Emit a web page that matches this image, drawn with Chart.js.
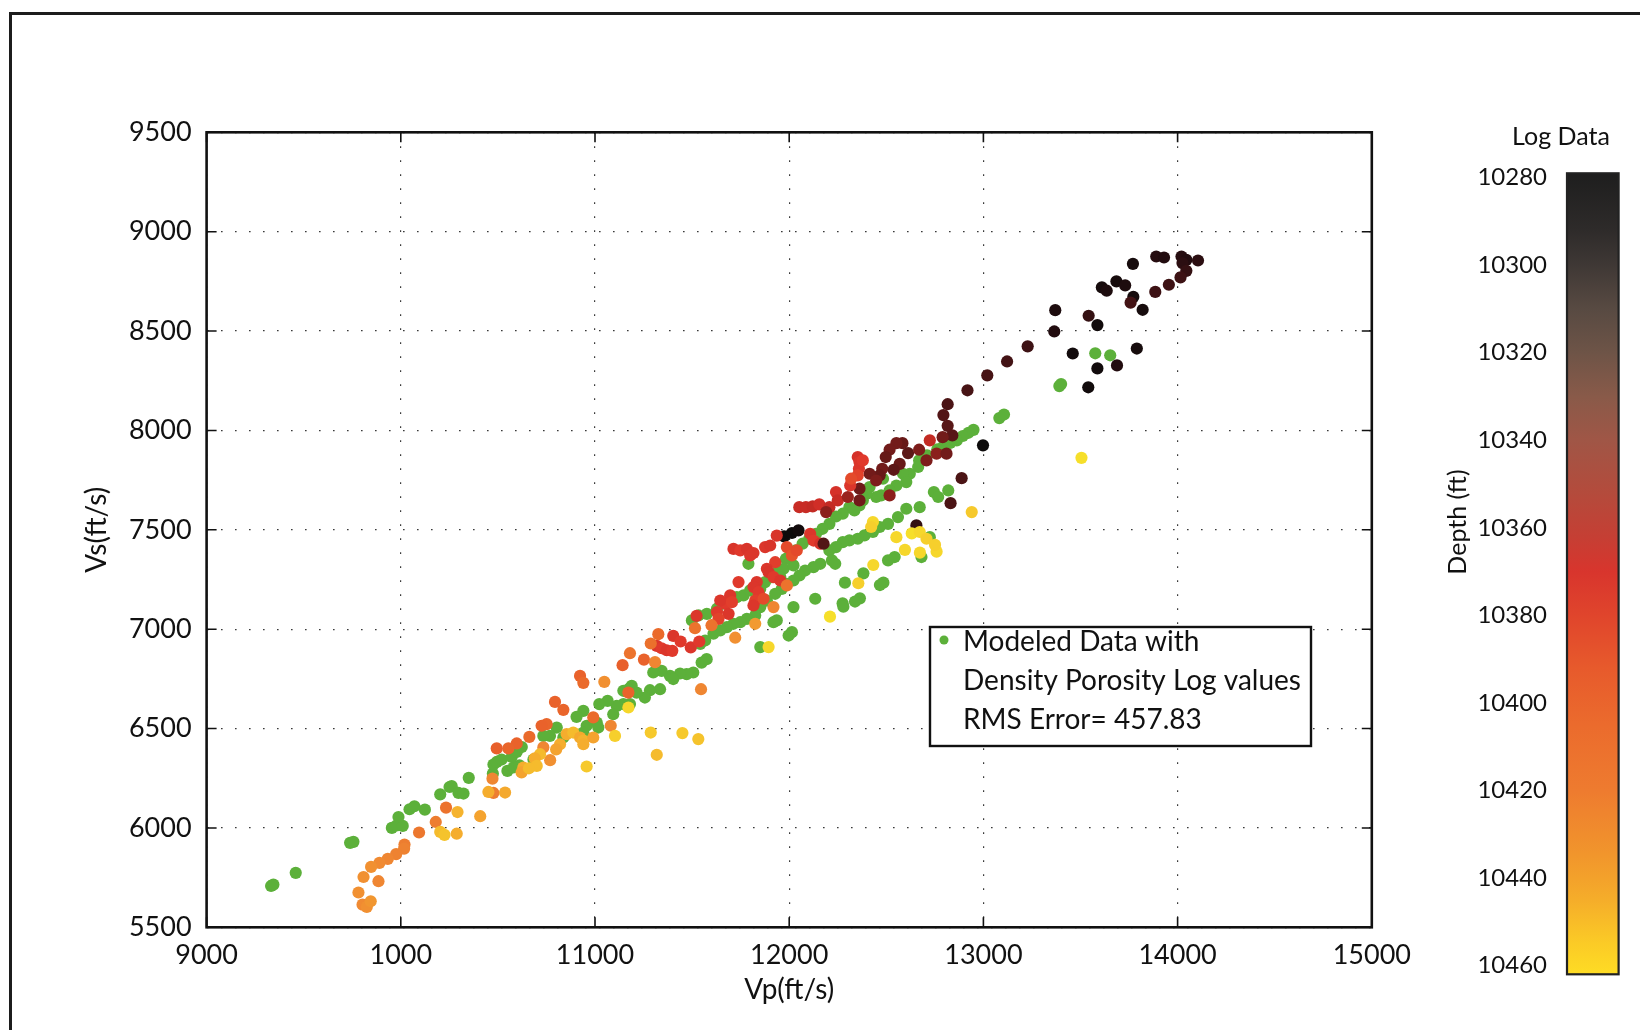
<!DOCTYPE html>
<html><head><meta charset="utf-8">
<script src="https://cdn.jsdelivr.net/npm/chart.js"></script>
<style>
html,body{margin:0;padding:0;background:#fff;}
#wrap{position:relative;width:1640px;height:1030px;overflow:hidden;background:#fff;}
#main{position:absolute;left:0;top:0;}
#cbar{position:absolute;left:1400px;top:0;}
#frame{position:absolute;left:9px;top:12px;width:1700px;height:1100px;border-left:3px solid #1c1c1c;border-top:3px solid #1c1c1c;pointer-events:none;}
</style></head><body>
<div id="wrap">
<canvas id="main" width="1640" height="1030"></canvas>
<canvas id="cbar" width="240" height="1030"></canvas>
<div id="frame"></div>
</div>
<script>
// ---------------- DATA ----------------
const xTickValues = [9000, 10000, 11000, 12000, 13000, 14000, 15000];
const xTickLabels = ['9000', '1000', '11000', '12000', '13000', '14000', '15000'];
const yTickValues = [5500, 6000, 6500, 7000, 7500, 8000, 8500, 9000, 9500];
const depthTicks = [10280, 10300, 10320, 10340, 10360, 10380, 10400, 10420, 10440, 10460];
const xTitle = 'Vp(ft/s)';
const yTitle = 'Vs(ft/s)';
const cbTitle = 'Log Data';
const cbAxisTitle = 'Depth (ft)';
const legendLines = ['Modeled Data with', 'Density Porosity Log values', 'RMS Error= 457.83'];

// Log data (colored by depth)
const logVp = [
  13890,13930,14020,14045,14025,14105,14045,14015,13955,13885,13770,13610,13635,13685,13730,13772,13758,13820,13542,13587,13370,13365,13228,13122,13020,12918,12816,12794,12816,12840,13460,13790,13587,13688,13540,12998,
  12888,12831,12655,12583,12552,12517,12497,12612,12669,12724,12790,12569,12538,12479,12466,12414,12448,12707,12759,12810,12362,12362,12517,
  12353,12362,12359,12353,12379,12052,12086,12121,12155,12207,12241,12250,12302,12314,12319,12190,11974,12014,12048,
  11936,11876,11902,11713,11748,11782,11816,11799,11928,11885,11894,11833,11739,11696,11670,11645,11705,11628,11688,11636,11816,11842,11825,11816,11868,12108,12125,12160,11988,12014,12039,11919,11954,
  11988,11919,11825,11722,11600,12177,
  11318,11343,11369,11398,11403,11441,11493,11537,11523,
  11326,11287,11252,11180,11142,11309,10923,10940,11048,10794,10837,11546,11515,10751,10725,10662,10597,10554,10494,10734,10769,11081,10991,11172,
  11103,11287,11450,11532,11318,10957,11172,10854,10888,10923,10940,10991,10940,10820,10800,10717,10690,10631,10622,10700,10660,
  10472,10477,10233,10180,10094,10019,10017,9976,9933,9890,9847,9808,9885,9782,9803,9825,9845,
  10451,10537,10409,10292,10203,10225,10288,
  12596,12673,12631,12759,12751,12433,12356,12210,12552,12672,12707,12940,12431,12422,13505,11894
];
const logVs = [
  8875,8870,8875,8858,8842,8855,8803,8770,8733,8697,8838,8720,8703,8750,8730,8672,8643,8607,8577,8530,8605,8498,8423,8347,8277,8202,8132,8077,8023,7975,8387,8412,8312,8327,8217,7925,
  7760,7634,7522,7936,7936,7903,7866,7886,7903,7950,7966,7832,7802,7807,7774,7782,7748,7849,7883,7883,7707,7648,7673,
  7866,7841,7807,7774,7849,7614,7614,7618,7628,7614,7690,7648,7665,7723,7757,7589,7467,7484,7497,
  7471,7413,7421,7404,7396,7404,7383,7371,7337,7304,7287,7237,7237,7170,7128,7144,7136,7086,7077,7052,7212,7186,7144,7119,7153,7480,7446,7430,7413,7371,7396,7262,7245,
  7220,7111,7027,6957,7020,7430,
  6916,6904,6894,6891,6966,6938,6908,6938,7067,
  6975,6928,6847,6879,6819,6834,6765,6730,6735,6634,6594,6698,7005,6522,6514,6458,6425,6400,6400,6405,6341,6514,6556,6681,
  6463,6480,6477,6447,6368,6309,6606,6472,6480,6455,6440,6455,6421,6421,6395,6371,6350,6304,6279,6312,6300,
  6248,6176,6102,6030,5977,5916,5896,5868,5844,5824,5804,5753,5732,5675,5614,5603,5631,
  6181,6178,6059,6080,5980,5965,5971,
  7399,7385,7482,7390,7424,7323,7231,7063,7463,7489,7455,7589,7539,7514,7862,6910
];
const logDepth = [
  10292,10290,10292,10290,10295,10295,10300,10305,10305,10305,10285,10285,10288,10285,10288,10285,10308,10285,10300,10283,10288,10290,10305,10308,10310,10310,10312,10315,10318,10318,10283,10285,10283,10290,10283,10281,
  10312,10312,10300,10325,10330,10330,10325,10320,10335,10360,10330,10325,10320,10330,10325,10330,10335,10335,10340,10330,10328,10330,10340,
  10368,10372,10372,10380,10375,10362,10362,10360,10365,10360,10368,10362,10345,10372,10385,10340,10281,10281,10283,
  10370,10372,10370,10370,10375,10370,10372,10372,10378,10372,10370,10372,10375,10372,10375,10372,10378,10375,10372,10380,10372,10375,10378,10372,10385,10372,10375,10368,10385,10390,10385,10375,10372,
  10410,10420,10430,10425,10410,10315,
  10372,10375,10372,10375,10372,10375,10372,10375,10372,
  10405,10408,10400,10410,10398,10420,10400,10405,10425,10400,10402,10420,10410,10402,10400,10405,10400,10402,10398,10420,10425,10420,10405,10400,
  10452,10450,10450,10448,10445,10450,10455,10440,10445,10438,10442,10435,10440,10440,10435,10445,10440,10440,10435,10445,10445,
  10420,10415,10410,10415,10412,10415,10418,10418,10420,10422,10425,10425,10420,10425,10422,10425,10428,
  10440,10438,10435,10442,10445,10448,10440,
  10455,10455,10458,10455,10452,10455,10452,10458,10455,10455,10452,10450,10455,10452,10458,10455
];

// Modeled data with density porosity log values
const modelVp = [
  13576,13653,13400,13391,13082,13106,12949,12923,12894,12863,12829,12794,12763,
  12710,12669,12664,12621,12586,12603,12552,12517,12483,12474,12448,12414,12397,12379,12362,12336,12310,12276,12241,12207,12172,12138,12103,12069,12034,12000,11983,
  12745,12819,12767,12672,12603,12560,12509,12466,12431,12388,12353,12310,12276,12241,12207,12543,12509,12724,12681,
  12382,12287,12485,12467,12364,12339,12275,12279,
  11499,11533,11576,11628,11670,11730,11765,11799,11851,11876,11911,11936,11971,11954,12022,11997,12160,12125,12082,12053,12022,11988,11962,11928,11885,11851,11825,11782,11748,11713,11679,11645,11610,11567,11542,11790,12134,12022,11936,11919,12014,11997,11851,12220,12237,
  11549,11575,11506,11472,11438,11386,11403,11343,11300,11335,11283,11257,11214,11189,11172,11146,11180,11146,11112,11065,11022,11094,10940,10905,11009,11017,10957,10940,10803,10768,10734,10837,
  9332,9344,9459,9739,9756,9954,9979,10010,9988,10045,10070,10124,10203,10251,10262,10297,10323,10350,10474,10477,10494,10519,10549,10580,10611,10571,10597,10623,10683
];
const modelVs = [
  8388,8378,8233,8223,8062,8080,8003,7988,7972,7950,7937,7920,7905,
  7875,7849,7816,7782,7782,7740,7723,7698,7757,7673,7665,7715,7681,7648,7623,7598,7614,7581,7567,7530,7505,7480,7455,7430,7396,7363,7354,
  7690,7698,7665,7614,7606,7564,7530,7514,7489,7472,7455,7447,7438,7413,7396,7363,7346,7463,7363,
  7281,7234,7234,7222,7155,7139,7130,7113,
  7044,7069,7077,7103,7128,7161,7170,7195,7203,7237,7262,7287,7304,7262,7321,7362,7329,7312,7295,7270,7245,7228,7203,7178,7144,7111,7069,7052,7035,7027,7010,6994,6977,6943,6926,7329,7153,7111,7044,7035,6985,6968,6910,7346,7329,
  6832,6849,6782,6774,6777,6765,6749,6790,6782,6698,6693,6656,6681,6715,6698,6690,6623,6623,6614,6639,6623,6572,6589,6559,6530,6505,6514,6480,6505,6463,6463,6455,
  5708,5715,5774,5925,5930,6000,6013,6010,6055,6094,6109,6092,6169,6206,6210,6176,6173,6252,6273,6319,6332,6344,6287,6304,6315,6357,6382,6407,6344
];

// ---------------- STYLE ----------------
const FONT = 'Lato, "Open Sans", "DejaVu Sans", sans-serif';
const TEXT = '#111111';
const GREEN = '#5cb03a';
const POINT_R = 6.1;
// colour map used for the log-data markers
const markerStops = [
  [10280,'#0b0b0b'],[10290,'#220c0f'],[10305,'#3d1214'],[10320,'#5c1717'],[10335,'#7d1d1b'],
  [10350,'#a8261f'],[10365,'#d02e27'],[10375,'#e0392c'],[10390,'#e6532a'],[10405,'#ea6a2b'],
  [10420,'#ef8632'],[10440,'#f5ad2e'],[10460,'#f6e52a']
];
// colour map as printed on the colour bar
const barStops = [
  [10279,'#1e1e1e'],[10292,'#2e2b2a'],[10300,'#3f3835'],[10310,'#584a42'],[10320,'#6e5447'],
  [10330,'#895a49'],[10340,'#a05646'],[10352,'#b44b3c'],[10362,'#c53f34'],[10370,'#d8352d'],
  [10380,'#e0452c'],[10392,'#e75a2c'],[10405,'#eb6b2d'],[10420,'#ee7b2f'],[10435,'#f1962c'],
  [10445,'#f5ad2a'],[10455,'#fbcb26'],[10462,'#fedc24']
];
const legendBox = {left: 930, top: 627, width: 381, height: 119};

function hexToRgb(h){ const n = parseInt(h.slice(1),16); return [(n>>16)&255,(n>>8)&255,n&255]; }
function depthColor(d, stops){
  if (d <= stops[0][0]) return stops[0][1];
  for (let i = 1; i < stops.length; i++){
    if (d <= stops[i][0]){
      const t = (d - stops[i-1][0]) / (stops[i][0] - stops[i-1][0]);
      const a = hexToRgb(stops[i-1][1]), b = hexToRgb(stops[i][1]);
      const c = a.map((v,k)=>Math.round(v + (b[k]-v)*t));
      return `rgb(${c[0]},${c[1]},${c[2]})`;
    }
  }
  return stops[stops.length-1][1];
}

// frame + inner ticks of the plot box
const boxPlugin = {
  id: 'box',
  afterDraw(chart){
    const {ctx, chartArea: a, scales: {x, y}} = chart;
    ctx.save();
    ctx.strokeStyle = '#111';
    ctx.lineWidth = 1.6;
    ctx.beginPath();
    x.ticks.forEach(t => { const p = x.getPixelForValue(t.value);
      ctx.moveTo(p, a.bottom); ctx.lineTo(p, a.bottom - 10);
      ctx.moveTo(p, a.top); ctx.lineTo(p, a.top + 10); });
    y.ticks.forEach(t => { const p = y.getPixelForValue(t.value);
      ctx.moveTo(a.left, p); ctx.lineTo(a.left + 10, p);
      ctx.moveTo(a.right, p); ctx.lineTo(a.right - 10, p); });
    ctx.stroke();
    ctx.lineWidth = 2.6;
    ctx.strokeRect(a.left, a.top, a.right - a.left, a.bottom - a.top);
    ctx.restore();
  }
};

const legendPlugin = {
  id: 'boxLegend',
  afterDraw(chart){
    const ctx = chart.ctx, b = legendBox;
    ctx.save();
    ctx.fillStyle = '#fff';
    ctx.fillRect(b.left, b.top, b.width, b.height);
    ctx.strokeStyle = '#111';
    ctx.lineWidth = 2.4;
    ctx.strokeRect(b.left, b.top, b.width, b.height);
    ctx.fillStyle = GREEN;
    ctx.beginPath(); ctx.arc(b.left + 14, b.top + 13, 4.5, 0, Math.PI*2); ctx.fill();
    ctx.fillStyle = TEXT;
    ctx.font = `28px ${FONT}`;
    ctx.textBaseline = 'middle';
    ctx.textAlign = 'left';
    legendLines.forEach((s, i) => ctx.fillText(s, b.left + 33, b.top + 15 + i * 39));
    ctx.restore();
  }
};

new Chart(document.getElementById('main'), {
  type: 'scatter',
  data: {
    datasets: [
      {
        label: 'Log Data',
        data: logVp.map((v, i) => ({x: v, y: logVs[i], d: logDepth[i]})),
        backgroundColor: c => depthColor(c.raw ? c.raw.d : 10370, markerStops),
        pointRadius: POINT_R, pointHoverRadius: POINT_R, borderWidth: 0
      },
      {
        label: legendLines.join(' '),
        data: modelVp.map((v, i) => ({x: v, y: modelVs[i]})),
        backgroundColor: GREEN,
        pointRadius: POINT_R, pointHoverRadius: POINT_R, borderWidth: 0
      }
    ]
  },
  options: {
    responsive: false, animation: false, events: [],
    layout: {padding: {left: 0, right: 268.2, top: 132.3, bottom: 0}},
    plugins: {legend: {display: false}, tooltip: {enabled: false}},
    scales: {
      x: {
        type: 'linear', min: 9000, max: 15000,
        afterBuildTicks: s => { s.ticks = xTickValues.map(v => ({value: v})); },
        afterFit: s => { s.height = 102.7; },
        ticks: {callback: (v, i) => xTickLabels[i], font: {family: FONT, size: 27}, color: TEXT, padding: 12, maxRotation: 0, autoSkip: false},
        grid: {color: '#3a3a3a', lineWidth: 1.2, drawTicks: false, borderDash: [1.6, 12.4]},
        border: {display: false, dash: [1.6, 12.4]},
        title: {display: true, text: xTitle, font: {family: FONT, size: 28}, color: TEXT, padding: {top: 0, bottom: 23}}
      },
      y: {
        type: 'linear', min: 5500, max: 9500,
        afterBuildTicks: s => { s.ticks = yTickValues.map(v => ({value: v})); },
        afterFit: s => { s.width = 206.6; },
        ticks: {callback: v => String(v), font: {family: FONT, size: 27}, color: TEXT, padding: 15, autoSkip: false},
        grid: {color: '#3a3a3a', lineWidth: 1.2, drawTicks: false, borderDash: [1.6, 12.4]},
        border: {display: false, dash: [1.6, 12.4]},
        title: {display: true, text: yTitle, font: {family: FONT, size: 28}, color: TEXT, padding: {top: 80, bottom: 0}}
      }
    }
  },
  plugins: [boxPlugin, legendPlugin]
});

// ---------------- colour bar ----------------
const cbPlugin = {
  id: 'cbDecor',
  afterDraw(chart){
    const {ctx, chartArea: a} = chart;
    ctx.save();
    ctx.strokeStyle = '#222';
    ctx.lineWidth = 2.2;
    ctx.strokeRect(a.left, a.top, a.right - a.left, a.bottom - a.top);
    ctx.fillStyle = TEXT;
    ctx.font = `25px ${FONT}`;
    ctx.textAlign = 'center';
    ctx.textBaseline = 'middle';
    ctx.fillText(cbTitle, 161, 137);
    ctx.translate(58, 522);
    ctx.rotate(-Math.PI / 2);
    ctx.fillText(cbAxisTitle, 0, 0);
    ctx.restore();
  }
};

new Chart(document.getElementById('cbar'), {
  type: 'bar',
  data: {
    labels: [''],
    datasets: [{
      data: [[barStops[0][0], barStops[barStops.length - 1][0]]],
      backgroundColor: c => {
        const ch = c.chart, ys = ch.scales.y;
        if (!ch.chartArea || !ys) return '#c44';
        const d0 = barStops[0][0], d1 = barStops[barStops.length - 1][0];
        const g = ch.ctx.createLinearGradient(0, ys.getPixelForValue(d0), 0, ys.getPixelForValue(d1));
        barStops.forEach(([d, col]) => g.addColorStop((d - d0) / (d1 - d0), col));
        return g;
      },
      borderWidth: 0, barPercentage: 1, categoryPercentage: 1
    }]
  },
  options: {
    responsive: false, animation: false, events: [],
    layout: {padding: {left: 0, right: 21.4, top: 173.3, bottom: 55.7}},
    plugins: {legend: {display: false}, tooltip: {enabled: false}},
    scales: {
      x: {display: false},
      y: {
        reverse: true, min: 10279, max: 10462,
        afterBuildTicks: s => { s.ticks = depthTicks.map(v => ({value: v})); },
        afterFit: s => { s.width = 167; },
        ticks: {callback: v => String(v), font: {family: FONT, size: 24}, color: TEXT, padding: 20, autoSkip: false},
        grid: {display: false, drawTicks: false},
        border: {display: false}
      }
    }
  },
  plugins: [cbPlugin]
});
</script>
</body></html>
